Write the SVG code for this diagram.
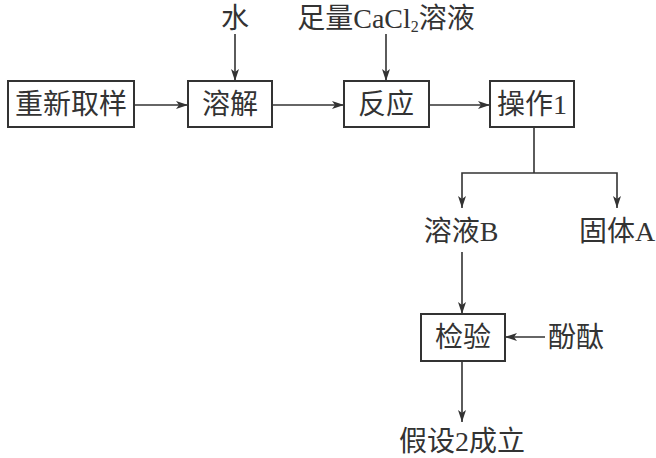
<svg xmlns="http://www.w3.org/2000/svg" width="656" height="458" viewBox="0 0 656 458">
<defs>
<marker id="ah" markerWidth="12" markerHeight="8" refX="12" refY="4" orient="auto" markerUnits="userSpaceOnUse">
<path d="M0,0 L12,4 L0,8 L3,4 Z" fill="#333"/>
</marker>
<style>
.box{fill:#fff;stroke:#333;stroke-width:2}
.t{font-family:"Liberation Serif","Noto Sans CJK SC",serif;font-size:28px;fill:#333;text-anchor:middle;dominant-baseline:central}
.c{stroke:#333;stroke-width:1.6;fill:none}
.a{marker-end:url(#ah)}
</style>
</defs>
<rect width="656" height="458" fill="#fff"/>
<g id="connectors">
<line class="c a" x1="134" y1="105" x2="188" y2="105"/>
<line class="c a" x1="272" y1="105" x2="344" y2="105"/>
<line class="c a" x1="429" y1="105" x2="490" y2="105"/>
<line class="c a" x1="235" y1="34" x2="235" y2="81"/>
<line class="c a" x1="386" y1="34" x2="386" y2="81"/>
<polyline class="c" points="534,127 534,173"/>
<polyline class="c a" points="534,173 462,173 462,208"/>
<polyline class="c a" points="534,173 617,173 617,208"/>
<line class="c a" x1="462" y1="252" x2="462" y2="314"/>
<line class="c a" x1="545" y1="337" x2="505" y2="337"/>
<line class="c a" x1="462" y1="361" x2="462" y2="422"/>
</g>
<g id="n1"><rect class="box" x="8" y="81" width="126" height="46"/><text class="t" x="71" y="104">重新取样</text></g>
<g id="n2"><rect class="box" x="188" y="81" width="84" height="46"/><text class="t" x="230" y="104">溶解</text></g>
<g id="n3"><rect class="box" x="344" y="81" width="85" height="46"/><text class="t" x="386" y="104">反应</text></g>
<g id="n4"><rect class="box" x="490" y="81" width="84" height="46"/><text class="t" x="532" y="104">操作1</text></g>
<g id="n5"><rect class="box" x="421" y="314" width="84" height="47"/><text class="t" x="463" y="337">检验</text></g>
<g id="l1"><text class="t" x="235" y="18">水</text></g>
<g id="l2"><text class="t" x="386" y="18">足量CaCl<tspan font-size="16" dy="8">2</tspan><tspan dy="-8">溶液</tspan></text></g>
<g id="l3"><text class="t" x="461" y="231">溶液B</text></g>
<g id="l4"><text class="t" x="617" y="231">固体A</text></g>
<g id="l5"><text class="t" x="576" y="337">酚酞</text></g>
<g id="l6"><text class="t" x="462" y="441">假设2成立</text></g>
</svg>
